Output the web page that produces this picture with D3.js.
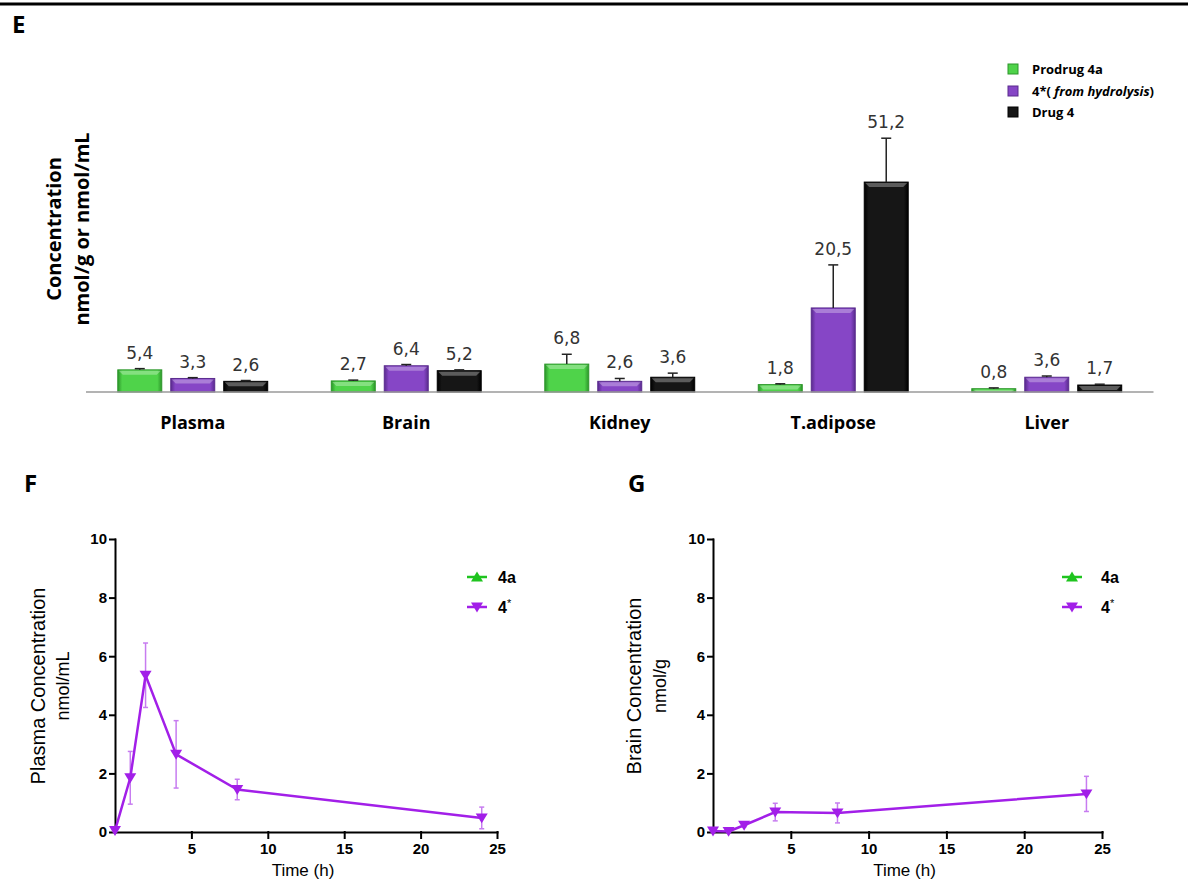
<!DOCTYPE html>
<html>
<head>
<meta charset="utf-8">
<script src="https://cdn.jsdelivr.net/npm/d3@7"></script>
<style>
  body { margin: 0; background: #fff; }
  svg { display: block; }
</style>
</head>
<body>
<div id="chart"></div>
<script>
// ---- Panel E data (tissue distribution) ----
const organs = ["Plasma", "Brain", "Kidney", "T.adipose", "Liver"];
const prodrugVals = [5.4, 2.7, 6.8, 1.8, 0.8];
const hydroVals = [3.3, 6.4, 2.6, 20.5, 3.6];
const drugVals = [2.6, 5.2, 3.6, 51.2, 1.7];
const prodrugErr = [0.3, 0.2, 2.4, 0.2, 0.2];
const hydroErr = [0.2, 0.3, 0.7, 10.5, 0.3];
const drugErr = [0.2, 0.2, 1.0, 10.7, 0.2];

// ---- Panels F / G data (time course of 4*) ----
const timeH = [0, 1, 2, 4, 8, 24];
const plasma4star = [0.05, 1.85, 5.35, 2.65, 1.45, 0.48];
const plasma4starErr = [0.04, 0.9, 1.1, 1.15, 0.35, 0.37];
const brain4star = [0.03, 0.02, 0.23, 0.68, 0.65, 1.3];
const brain4starErr = [0.02, 0.02, 0.05, 0.3, 0.34, 0.6];
const yTicksPK = [0, 2, 4, 6, 8, 10];
const xTicksPK = [5, 10, 15, 20, 25];

const W = 1188, H = 882;
const svg = d3.select("#chart").append("svg").attr("width", W).attr("height", H);
const defs = svg.append("defs");

// top rule
svg.append("line").attr("x1", 0).attr("x2", W).attr("y1", 4).attr("y2", 4)
  .attr("stroke", "#000").attr("stroke-width", 3);

// panel letters
const letter = (t, x, y) => svg.append("text").attr("x", x).attr("y", y).text(t)
  .attr("font-family", "Open Sans").attr("font-weight", 700).attr("font-size", 24);
letter("E", 12, 33);
letter("F", 24, 492);
letter("G", 628, 492);

// ================= Panel E =================
const seriesE = [
  { key: "prodrug", vals: prodrugVals, err: prodrugErr, base: "#4fd34a", edge: "#2c962a" },
  { key: "hydro", vals: hydroVals, err: hydroErr, base: "#8646c6", edge: "#5a2b8e" },
  { key: "drug", vals: drugVals, err: drugErr, base: "#161616", edge: "#000" }
];

seriesE.forEach(s => {
  const g = defs.append("linearGradient").attr("id", "g-" + s.key)
    .attr("x1", 0).attr("x2", 1).attr("y1", 0).attr("y2", 0);
  g.append("stop").attr("offset", 0).attr("stop-color", s.edge);
  g.append("stop").attr("offset", 0.1).attr("stop-color", s.base);
  g.append("stop").attr("offset", 0.9).attr("stop-color", s.base);
  g.append("stop").attr("offset", 1).attr("stop-color", s.edge);
});

const baseY = 392;
const x0 = d3.scaleBand().domain(organs).range([86, 1153.5]);
const x1 = d3.scaleBand().domain([0, 1, 2]).range([0, x0.bandwidth()])
  .paddingInner(0.17).paddingOuter(0.6);
const yE = d3.scaleLinear().domain([0, 60]).range([baseY, baseY - 246]);
const fmtComma = d3.formatLocale({ decimal: ",", thousands: ".", grouping: [3], currency: ["", ""] }).format(".1f");

const gE = svg.append("g");

seriesE.forEach((s, si) => {
  const grp = gE.append("g");
  organs.forEach((org, i) => {
    const v = s.vals[i], e = s.err[i];
    const bx = x0(org) + x1(si), bw = x1.bandwidth();
    const cx = bx + bw / 2;
    grp.append("rect")
      .attr("x", bx).attr("y", yE(v))
      .attr("width", bw).attr("height", baseY - yE(v))
      .attr("fill", `url(#g-${s.key})`)
      .attr("stroke", s.edge).attr("stroke-width", 1);
    // bevel highlight
    const hh = Math.min(5, baseY - yE(v));
    grp.append("path")
      .attr("d", `M${bx + 1},${yE(v) + 1}H${bx + bw - 1}L${bx + bw - 5},${yE(v) + hh}H${bx + 5}Z`)
      .attr("fill", "#fff").attr("fill-opacity", 0.3);
    // error bar
    grp.append("line").attr("x1", cx).attr("x2", cx)
      .attr("y1", yE(v)).attr("y2", yE(v + e))
      .attr("stroke", "#222").attr("stroke-width", 1.5);
    grp.append("line").attr("x1", cx - 5).attr("x2", cx + 5)
      .attr("y1", yE(v + e)).attr("y2", yE(v + e))
      .attr("stroke", "#222").attr("stroke-width", 1.5);
    // value label
    grp.append("text").attr("x", cx).attr("y", yE(v + e) - 10)
      .attr("text-anchor", "middle")
      .attr("font-family", "DejaVu Sans").attr("font-size", 17).attr("fill", "#333")
      .text(fmtComma(v));
  });
});

// baseline
gE.append("line").attr("x1", 86).attr("x2", 1153.5).attr("y1", baseY).attr("y2", baseY)
  .attr("stroke", "#9a9a9a").attr("stroke-width", 1.5);

// category labels
gE.selectAll(".cat").data(organs).enter().append("text")
  .attr("class", "cat")
  .attr("x", d => x0(d) + x0.bandwidth() / 2)
  .attr("y", 429)
  .attr("text-anchor", "middle")
  .attr("font-family", "Open Sans").attr("font-weight", 700).attr("font-size", 18)
  .text(d => d);

// y label
[["Concentration", 53], ["nmol/g or nmol/mL", 81]].forEach(([t, x]) => {
  gE.append("text")
    .attr("transform", `translate(${x},229) rotate(-90)`)
    .attr("text-anchor", "middle").attr("dominant-baseline", "central")
    .attr("font-family", "Open Sans").attr("font-weight", 700).attr("font-size", 20)
    .text(t);
});

// legend
const legE = gE.append("g").attr("font-family", "Open Sans").attr("font-weight", 700).attr("font-size", 13);
const legY = [69, 91, 112];
seriesE.forEach((s, i) => {
  legE.append("rect").attr("x", 1008).attr("y", legY[i] - 5).attr("width", 10).attr("height", 10)
    .attr("fill", s.base).attr("stroke", s.edge).attr("stroke-width", 1);
});
legE.append("text").attr("x", 1032).attr("y", legY[0]).attr("dominant-baseline", "central").text("Prodrug 4a");
const t2 = legE.append("text").attr("x", 1032).attr("y", legY[1]).attr("dominant-baseline", "central");
t2.append("tspan").text("4*( ");
t2.append("tspan").attr("font-style", "italic").text("from hydrolysis");
t2.append("tspan").text(")");
legE.append("text").attr("x", 1032).attr("y", legY[2]).attr("dominant-baseline", "central").text("Drug 4");

// ================= Panels F and G =================
const purple = "#a21fe8";
const green = "#1fc41f";

function triDown(size) {
  return `M${-size},${-size * 0.75}L${size},${-size * 0.75}L0,${size * 0.9}Z`;
}
function triUp(size) {
  return `M${-size},${size * 0.75}L${size},${size * 0.75}L0,${-size * 0.9}Z`;
}

function drawPK(cfg) {
  const g = svg.append("g");
  const x = d3.scaleLinear().domain([0, 25]).range([cfg.left, cfg.right]);
  const y = d3.scaleLinear().domain([0, 10]).range([832, 539]);

  const yAxis = g.append("g").attr("transform", `translate(${cfg.left},0)`)
    .call(d3.axisLeft(y).tickValues(yTicksPK).tickSize(5).tickSizeOuter(0).tickPadding(3));
  const xAxis = g.append("g").attr("transform", `translate(0,832)`)
    .call(d3.axisBottom(x).tickValues(xTicksPK).tickSize(6).tickSizeOuter(0).tickPadding(5));
  [yAxis, xAxis].forEach(a => {
    a.attr("font-family", "Liberation Sans").attr("font-size", 15).attr("font-weight", 700);
    a.selectAll("path, line").attr("stroke", "#000").attr("stroke-width", 2).attr("stroke-linecap", "square");
    a.selectAll("text").attr("fill", "#000");
  });

  // axis titles
  g.append("text").attr("x", (cfg.left + cfg.right) / 2 - 3).attr("y", 876)
    .attr("text-anchor", "middle")
    .attr("font-family", "Liberation Sans").attr("font-size", 17)
    .text("Time (h)");
  g.append("text").attr("transform", `translate(${cfg.lab1X},686) rotate(-90)`)
    .attr("text-anchor", "middle").attr("dominant-baseline", "central")
    .attr("font-family", "Liberation Sans").attr("font-size", 20)
    .text(cfg.lab1);
  g.append("text").attr("transform", `translate(${cfg.lab2X},686) rotate(-90)`)
    .attr("text-anchor", "middle").attr("dominant-baseline", "central")
    .attr("font-family", "Liberation Sans").attr("font-size", 18)
    .text(cfg.lab2);

  const pts = timeH.map((t, i) => ({ t, v: cfg.vals[i], e: cfg.err[i] }));

  // error bars
  const eb = g.append("g").attr("stroke", "#c77cf0").attr("stroke-width", 1.5);
  pts.forEach(d => {
    const cx = x(d.t);
    eb.append("line").attr("x1", cx).attr("x2", cx).attr("y1", y(d.v - d.e)).attr("y2", y(d.v + d.e));
    eb.append("line").attr("x1", cx - 2.5).attr("x2", cx + 2.5).attr("y1", y(d.v + d.e)).attr("y2", y(d.v + d.e));
    eb.append("line").attr("x1", cx - 2.5).attr("x2", cx + 2.5).attr("y1", y(d.v - d.e)).attr("y2", y(d.v - d.e));
  });

  g.append("path").datum(pts)
    .attr("fill", "none").attr("stroke", purple).attr("stroke-width", 2.5)
    .attr("d", d3.line().x(d => x(d.t)).y(d => y(d.v)));

  g.selectAll(".mk").data(pts).enter().append("path")
    .attr("class", "mk")
    .attr("transform", d => `translate(${x(d.t)},${y(d.v)})`)
    .attr("d", triDown(6))
    .attr("fill", purple);

  // legend
  const lx = cfg.legX;
  const leg = g.append("g").attr("font-family", "Liberation Sans").attr("font-weight", 700).attr("font-size", 16);
  [[577, green, triUp(6), "4a"], [607, purple, triDown(6), "4*"]].forEach(([ly, c, sym, lab]) => {
    leg.append("line").attr("x1", lx).attr("x2", lx + 20).attr("y1", ly).attr("y2", ly)
      .attr("stroke", c).attr("stroke-width", 2.5);
    leg.append("path").attr("transform", `translate(${lx + 10},${ly})`).attr("d", sym).attr("fill", c);
    const tx = leg.append("text").attr("x", cfg.legTextX).attr("y", ly).attr("dominant-baseline", "central");
    if (lab === "4*") {
      tx.append("tspan").text("4");
      tx.append("tspan").attr("font-size", 11).attr("font-weight", 400).attr("dy", -4).text("*");
    } else {
      tx.text(lab);
    }
  });
}

drawPK({
  left: 115, right: 497, vals: plasma4star, err: plasma4starErr,
  lab1: "Plasma Concentration", lab2: "nmol/mL", lab1X: 38, lab2X: 63,
  legX: 467, legTextX: 498
});
drawPK({
  left: 713, right: 1102, vals: brain4star, err: brain4starErr,
  lab1: "Brain Concentration", lab2: "nmol/g", lab1X: 634, lab2X: 660,
  legX: 1062, legTextX: 1101
});
</script>
</body>
</html>
